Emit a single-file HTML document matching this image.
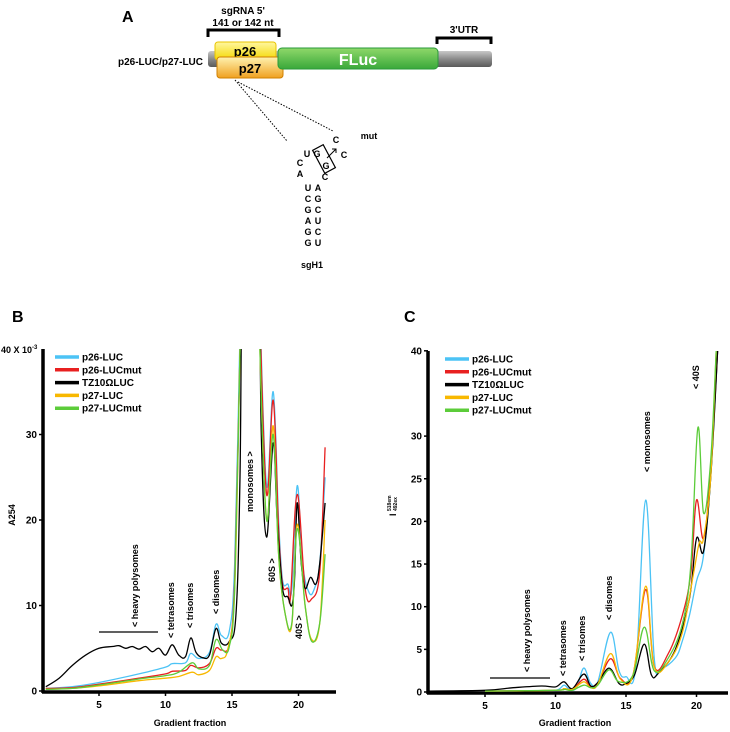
<!DOCTYPE html>
<html><head><meta charset="utf-8"><style>
body{margin:0;background:#fff;}
svg{display:block;font-family:"Liberation Sans",sans-serif;font-weight:bold;}
</style></head><body>
<svg id="fig" width="730" height="732" viewBox="0 0 730 732">
<defs>
<linearGradient id="gray" x1="0" y1="0" x2="0" y2="1"><stop offset="0" stop-color="#c8c8c8"/><stop offset="0.5" stop-color="#8a8a8a"/><stop offset="1" stop-color="#5a5a5a"/></linearGradient>
<linearGradient id="yel" x1="0" y1="0" x2="0" y2="1"><stop offset="0" stop-color="#fff7a0"/><stop offset="1" stop-color="#f5d800"/></linearGradient>
<linearGradient id="org" x1="0" y1="0" x2="0" y2="1"><stop offset="0" stop-color="#fff3b0"/><stop offset="1" stop-color="#f0a020"/></linearGradient>
<linearGradient id="grn" x1="0" y1="0" x2="0" y2="1"><stop offset="0" stop-color="#8fd86a"/><stop offset="1" stop-color="#3aa83a"/></linearGradient>
<clipPath id="clipB"><rect x="43" y="349" width="295" height="344"/></clipPath>
<clipPath id="clipC"><rect x="428" y="351" width="302" height="342"/></clipPath>
</defs>

<!-- Panel A -->
<g>
<text x="122" y="22" font-size="16">A</text>
<text x="243" y="14" font-size="10" text-anchor="middle">sgRNA 5'</text>
<text x="243" y="26" font-size="10" text-anchor="middle">141 or 142 nt</text>
<path d="M208,37 V30 H279 V37" fill="none" stroke="#000" stroke-width="3"/>
<text x="464" y="33" font-size="10" text-anchor="middle">3'UTR</text>
<path d="M437,44 V38 H491 V44" fill="none" stroke="#000" stroke-width="3"/>
<text x="203" y="65" font-size="10" text-anchor="end">p26-LUC/p27-LUC</text>
<rect x="208" y="51" width="284" height="16" rx="3" fill="url(#gray)"/>
<rect x="215" y="42" width="61" height="18" rx="3" fill="url(#yel)" stroke="#e8c400"/>
<text x="245" y="56" font-size="13" text-anchor="middle">p26</text>
<rect x="217" y="57" width="66" height="21" rx="3" fill="url(#org)" stroke="#d08000"/>
<text x="250" y="73" font-size="13" text-anchor="middle">p27</text>
<rect x="278" y="48" width="160" height="21" rx="4" fill="url(#grn)" stroke="#2a9a3a"/>
<text x="358" y="65" font-size="16" fill="#fff" text-anchor="middle">FLuc</text>
<line x1="235" y1="80" x2="287" y2="141" stroke="#000" stroke-dasharray="1.5,1.5"/>
<line x1="238" y1="82" x2="333" y2="131" stroke="#000" stroke-dasharray="1.5,1.5"/>
<g font-size="9" text-anchor="middle">
<text x="369" y="139">mut</text>
<text x="336" y="143">C</text>
<text x="344" y="158">C</text>
<text x="307" y="157">U</text><text x="317" y="157">G</text>
<text x="326" y="169">G</text>
<text x="300" y="166">C</text><text x="300" y="177">A</text>
<text x="325" y="180">C</text>
<text x="308" y="191">U</text><text x="318" y="191">A</text>
<text x="308" y="202">C</text><text x="318" y="202">G</text>
<text x="308" y="213">G</text><text x="318" y="213">C</text>
<text x="308" y="224">A</text><text x="318" y="224">U</text>
<text x="308" y="235">G</text><text x="318" y="235">C</text>
<text x="308" y="246">G</text><text x="318" y="246">U</text>
<text x="312" y="268">sgH1</text>
</g>
<rect x="318" y="146" width="12" height="26" transform="rotate(-28 324 159)" fill="none" stroke="#000" stroke-width="1.2"/>
<path d="M327,158 L336,149 M332,149 H336 V153" fill="none" stroke="#000"/>
</g>

<!-- Panel B -->
<text x="12" y="322" font-size="16">B</text>
<g id="axB"></g>
<g id="curvesB" clip-path="url(#clipB)"></g>
<g id="legB"></g>
<text x="190" y="726" font-size="9" text-anchor="middle">Gradient fraction</text>
<text transform="translate(15,515) rotate(-90)" font-size="9" text-anchor="middle">A254</text>
<text x="1" y="353" font-size="9">40 X 10<tspan font-size="6" dy="-4">-3</tspan></text>
<line x1="99" y1="632" x2="158" y2="632" stroke="#000" stroke-width="1.2"/>
<g font-size="9">
<text transform="translate(138,627) rotate(-90)">&lt; heavy polysomes</text>
<text transform="translate(174,638) rotate(-90)">&lt; tetrasomes</text>
<text transform="translate(193,628) rotate(-90)">&lt; trisomes</text>
<text transform="translate(219,614) rotate(-90)">&lt; disomes</text>
<text transform="translate(253,512) rotate(-90)">monosomes &gt;</text>
<text transform="translate(275,582) rotate(-90)">60S &gt;</text>
<text transform="translate(302,639) rotate(-90)">40S &gt;</text>
</g>

<!-- Panel C -->
<text x="404" y="322" font-size="16">C</text>
<g id="axC"></g>
<g id="curvesC" clip-path="url(#clipC)"></g>
<g id="legC"></g>
<text x="575" y="726" font-size="9" text-anchor="middle">Gradient fraction</text>
<g>
<text transform="translate(396,516) rotate(-90)" font-size="9">I</text>
<text transform="translate(391,511) rotate(-90)" font-size="5">518em</text>
<text transform="translate(397,511) rotate(-90)" font-size="5">492ex</text>
</g>
<line x1="490" y1="678" x2="550" y2="678" stroke="#000" stroke-width="1.2"/>
<g font-size="9">
<text transform="translate(530,672) rotate(-90)">&lt; heavy polysomes</text>
<text transform="translate(566,676) rotate(-90)">&lt; tetrasomes</text>
<text transform="translate(585,661) rotate(-90)">&lt; trisomes</text>
<text transform="translate(612,620) rotate(-90)">&lt; disomes</text>
<text transform="translate(650,472) rotate(-90)">&lt; monosomes</text>
<text transform="translate(699,389) rotate(-90)">&lt; 40S</text>
</g>
</svg>
<script>
const seriesNames = ["p26-LUC","p26-LUCmut","TZ10\u03A9LUC","p27-LUC","p27-LUCmut"];
const seriesColors = ["#4cc3f5","#e82020","#000000","#f8b800","#5ccc3a"];
const xTicks = [5,10,15,20];
const yTicksB = [0,10,20,30];
const yTicksC = [0,5,10,15,20,25,30,40];
// Panel B: [fraction, A254 x10^-3]
const bBlue = [[1,0.3],[3,0.5],[5,1],[8,2],[10,2.8],[10.5,3.2],[11.5,3.3],[11.9,4.4],[12.5,3.8],[13.3,4.5],[13.8,7.8],[14.2,6.5],[14.8,7],[15.2,15],[15.6,42],[15.8,60],[16.9,60],[17.1,45],[17.6,24],[18.1,35],[18.5,20],[18.8,13],[19.2,12.5],[19.5,12],[19.9,24],[20.3,15],[20.8,11.5],[21.2,12],[21.6,15],[22,25]];
const bRed = [[1,0.3],[3,0.4],[5,0.8],[8,1.5],[10,2],[10.5,2.3],[11.5,2.4],[11.9,3],[12.5,2.7],[13.3,3.2],[13.8,5],[14.2,4.8],[14.8,5.5],[15.2,13],[15.6,40],[15.8,60],[16.9,60],[17.1,44],[17.6,23],[18.1,34],[18.5,19],[18.8,12.5],[19.2,12],[19.4,11],[19.9,23],[20.5,12],[21,10.8],[21.6,14],[22,28.5]];
const bBlack = [[1,0.5],[2,1.5],[3,3],[4,4.2],[5,5],[6,5.2],[6.5,5.3],[7,5],[7.5,5.2],[8,4.9],[8.5,5.2],[9,4.6],[9.5,5],[10,4.2],[10.5,5.4],[11,4.2],[11.5,4],[11.9,6.2],[12.3,4.5],[12.8,3.9],[13.3,4.2],[13.8,7.3],[14.2,5.6],[14.8,5.8],[15.3,9],[15.6,25],[15.9,60],[16.9,60],[17.2,30],[17.6,18],[18.1,29],[18.4,20],[18.8,12],[19.2,11],[19.5,10],[19.7,13],[19.9,22],[20.2,15],[20.5,12],[20.9,13.3],[21.3,12.5],[21.6,15],[22,22]];
const bOrange = [[1,0.2],[3,0.3],[5,0.6],[8,1.2],[10,1.5],[11,1.7],[12,2.2],[12.5,1.9],[13.3,2.4],[13.8,4],[14.2,3.8],[14.7,5],[15.2,12],[15.6,40],[15.8,60],[16.9,60],[17.1,40],[17.6,20],[18.1,31],[18.5,16],[19,9],[19.5,7.8],[19.9,19.5],[20.5,10],[21,6],[21.6,8],[22,20]];
const bGreen = [[1,0.2],[3,0.3],[5,0.7],[8,1.4],[10,1.8],[11,2.2],[12,3.3],[12.5,2.6],[13.3,3],[13.8,6],[14.3,4.8],[14.8,5.2],[15.2,12],[15.6,40],[15.8,60],[16.9,60],[17.1,40],[17.6,20],[18.1,30],[18.5,16],[19,9],[19.5,8],[19.9,19],[20.5,10],[21,5.8],[21.6,8],[22,16]];
// Panel C: [fraction, intensity]
const cBlue = [[5,0.1],[8,0.15],[10,0.2],[10.6,0.8],[11,0.3],[11.5,0.5],[12,2.8],[12.5,1],[13,1.2],[13.9,7],[14.5,2.5],[15,1.8],[15.7,3],[16.4,22.5],[17,4],[17.5,2.8],[18.5,4],[19,6],[19.5,9],[20,13],[20.5,16],[21,25],[21.5,40]];
const cRed = [[5,0.1],[10,0.2],[10.6,0.4],[11.2,0.3],[12,1.5],[12.5,0.6],[13,1],[13.9,3.9],[14.6,1.6],[15.5,2],[16.4,12],[17,3],[18,4.5],[19,9],[19.6,14],[20,22.5],[20.5,18],[21,26],[21.5,40]];
const cBlack = [[1,0.1],[5,0.2],[7,0.5],[9,0.7],[10,0.6],[10.6,1.2],[11.2,0.4],[12,2.1],[12.5,0.7],[13,1.1],[13.8,2.8],[14.5,1],[15,1],[15.6,2],[16.3,5.6],[16.8,2],[17.3,2.2],[18.5,5],[19.5,11],[20,18],[20.5,16.5],[21,25],[21.5,40]];
const cOrange = [[5,0.1],[10,0.2],[10.6,0.4],[11.2,0.3],[12,1.2],[12.5,0.5],[13,0.9],[13.9,4.5],[14.6,1.5],[15.5,2],[16.4,12.4],[17,3],[18,3.5],[19,7],[19.8,14],[20.2,17.5],[20.5,18],[21,25],[21.4,40]];
const cGreen = [[5,0.1],[10,0.2],[10.6,0.3],[11.2,0.2],[12,0.8],[12.5,0.5],[13,0.8],[13.8,2.6],[14.5,1.2],[15.5,2],[16.3,7.6],[17,2.5],[18,4],[19,8],[19.6,15],[20.1,31],[20.5,21],[21,27],[21.4,40]];
const seriesB = [bBlue,bRed,bBlack,bOrange,bGreen];
const seriesC = [cBlue,cRed,cBlack,cOrange,cGreen];

const NS="http://www.w3.org/2000/svg";
function mk(tag,attrs,parent){const e=document.createElementNS(NS,tag);for(const k in attrs)e.setAttribute(k,attrs[k]);parent.appendChild(e);return e;}
const panelB={x:f=>99+(f-5)*13.3, y:v=>691-v*8.55, x0:43, x1:336, y0:349, y1:692};
const panelC={x:f=>485+(f-5)*14.1, y:v=>692-v*8.53, x0:428, x1:728, y0:351, y1:693};

function smooth(pts){
  let d="M"+pts[0][0].toFixed(1)+","+pts[0][1].toFixed(1);
  for(let i=0;i<pts.length-1;i++){
    const p0=pts[Math.max(0,i-1)],p1=pts[i],p2=pts[i+1],p3=pts[Math.min(pts.length-1,i+2)];
    const t=0.18;
    const c1=[p1[0]+(p2[0]-p0[0])*t,p1[1]+(p2[1]-p0[1])*t];
    const c2=[p2[0]-(p3[0]-p1[0])*t,p2[1]-(p3[1]-p1[1])*t];
    d+=" C"+c1[0].toFixed(1)+","+c1[1].toFixed(1)+" "+c2[0].toFixed(1)+","+c2[1].toFixed(1)+" "+p2[0].toFixed(1)+","+p2[1].toFixed(1);
  }
  return d;
}

function drawAxes(p,g,yTicks,key){
  for(const v of yTicks){
    const y=p.y(v);
    const tk=mk("line",{x1:p.x0-4,y1:y,x2:p.x0,y2:y,stroke:"#000","stroke-width":1.5},g);
    
    
    const t=mk("text",{x:p.x0-6,y:y+3.5,"font-size":10,"text-anchor":"end"},g);
    t.textContent=v;
    
    
  }
  for(const f of xTicks){
    const x=p.x(f);
    const tk=mk("line",{x1:x,y1:p.y1,x2:x,y2:p.y1+4,stroke:"#000","stroke-width":1.5},g);
    
    
    const t=mk("text",{x:x,y:p.y1+16,"font-size":10,"text-anchor":"middle"},g);
    t.textContent=f;
    
    
  }
  const ya=mk("line",{x1:p.x0,y1:p.y0,x2:p.x0,y2:p.y1+1,stroke:"#000","stroke-width":3.5},g);
  
  
  const xa=mk("line",{x1:p.x0-1,y1:p.y1,x2:p.x1,y2:p.y1,stroke:"#000","stroke-width":3.5},g);
  
  
}
function drawCurves(p,g,series,key){
  series.forEach((s,i)=>{
    const pts=s.map(d=>[p.x(d[0]),p.y(d[1])]);
    const path=mk("path",{d:smooth(pts),fill:"none",stroke:seriesColors[i],"stroke-width":1.3,"stroke-linejoin":"round"},g);
    
    
  });
}
function drawLegend(g,lx,tx,y0,dy,key){
  seriesNames.forEach((n,i)=>{
    const y=y0+i*dy;
    const l=mk("line",{x1:lx,y1:y,x2:lx+24,y2:y,stroke:seriesColors[i],"stroke-width":3.5},g);
    
    
    const t=mk("text",{x:tx,y:y+3.5,"font-size":10},g);
    t.textContent=n;
    
    
  });
}
drawCurves(panelB,document.getElementById("curvesB"),seriesB,"panel-b");
drawCurves(panelC,document.getElementById("curvesC"),seriesC,"panel-c");
drawAxes(panelB,document.getElementById("axB"),yTicksB,"panel-b");
drawAxes(panelC,document.getElementById("axC"),yTicksC,"panel-c");
drawLegend(document.getElementById("legB"),55,82,357,12.8,"panel-b");
drawLegend(document.getElementById("legC"),445,472,359,12.8,"panel-c");
</script>
</body></html>
